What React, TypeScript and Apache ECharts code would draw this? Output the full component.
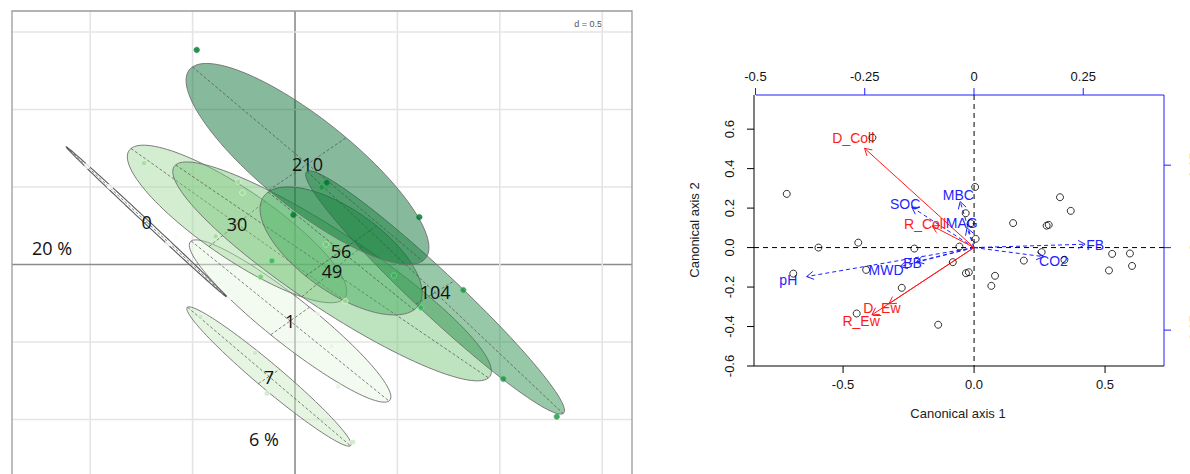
import React, { useEffect, useRef } from 'react';
import * as echarts from 'echarts';

// ---------- Left panel (class ellipses) ----------
const classNames = ['0', '1', '7', '30', '49', '56', '104', '210'];
const classColors = ['#f7fcf5', '#e5f5e0', '#c7e9c0', '#a1d99b', '#74c476', '#41ab5d', '#238b45', '#006d2c'];
const classCentres = [
  [-0.725, 0.274], [-0.024, -0.365], [-0.127, -0.723], [-0.283, 0.261],
  [0.181, -0.045], [0.225, 0.087], [0.684, -0.181], [0.061, 0.648],
];
const classMajorAxes = [
  [0.392, -0.484], [0.483, -0.516], [0.398, -0.447], [0.518, -0.487],
  [0.764, -0.687], [0.356, -0.38], [0.625, -0.781], [0.562, -0.626],
];
const classMinorLengths = [0.012, 0.13, 0.07, 0.2, 0.22, 0.237, 0.12, 0.254];

const points0 = [[-1.014, 0.635], [-0.903, 0.502], [-0.581, 0.177], [-0.62, 0.134], [-0.321, -0.216]];
const points1 = [[0.112, -0.319], [0.179, -0.529], [0.211, -0.787]];
const points7 = [[-0.461, -0.339], [-0.196, -0.572], [-0.137, -0.832], [0.283, -1.146]];
const points30 = [[-0.737, 0.653], [-0.277, 0.534], [-0.257, 0.463], [-0.388, 0.182], [0.245, -0.237]];
const points49 = [[-0.168, -0.081], [0.151, 0.129]];
const points56 = [[-0.113, 0.023], [0.483, -0.072], [0.615, -0.279]];
const points104 = [[0.13, 0.497], [0.822, -0.165], [1.017, -0.739], [1.278, -0.982]];
const points210 = [[-0.48, 1.384], [0.155, 0.528], [-0.008, 0.319], [0.607, 0.305]];
const classPoints = [points0, points1, points7, points30, points49, points56, points104, points210];

const leftGridTicks = [-1, -0.5, 0, 0.5, 1, 1.5];

// ---------- Right panel (CCA biplot) ----------
const siteScores = [
  [-0.715, 0.272], [-0.388, 0.557], [0.004, 0.307], [-0.032, 0.174], [-0.013, 0.123], [0.006, 0.044],
  [-0.056, 0.005], [-0.442, 0.025], [-0.594, 0.0], [-0.228, -0.005], [-0.69, -0.132], [-0.412, -0.113],
  [-0.081, -0.074], [-0.276, -0.204], [-0.031, -0.13], [-0.02, -0.125], [-0.448, -0.334], [-0.137, -0.391],
  [0.066, -0.194], [0.08, -0.143], [0.149, 0.124], [0.328, 0.255], [0.369, 0.186], [0.277, 0.111],
  [0.285, 0.115], [0.19, -0.066], [0.258, -0.023], [0.345, -0.062], [0.527, -0.032], [0.595, -0.03],
  [0.515, -0.116], [0.603, -0.093],
];

const redNames = ['D_Coll', 'R_Coll', 'D_Ew', 'R_Ew'];
const redTips = [[-0.418, 0.503], [-0.16, 0.11], [-0.325, -0.285], [-0.39, -0.341]];
const redLabelPos = [[-0.461, 0.554], [-0.187, 0.12], [-0.352, -0.307], [-0.431, -0.371]];

const blueNames = ['SOC', 'MBC', 'MAG', 'BB', 'MWD', 'pH', 'FB', 'CO2'];
const blueTips = [
  [-0.238, 0.205], [-0.053, 0.233], [-0.027, 0.1], [-0.219, -0.071],
  [-0.282, -0.096], [-0.639, -0.147], [0.424, 0.017], [0.265, -0.046],
];
const blueLabelPos = [
  [-0.263, 0.22], [-0.06, 0.267], [-0.047, 0.124], [-0.235, -0.079],
  [-0.336, -0.113], [-0.709, -0.164], [0.462, 0.014], [0.303, -0.066],
];

const bottomTicks = [-0.5, 0, 0.5];
const leftTicks = [-0.6, -0.4, -0.2, 0, 0.2, 0.4, 0.6];
const topTicks = [-0.5, -0.25, 0, 0.25];
const rightTicks = [-0.25, 0, 0.25];

const RFONT = 'Liberation Sans, Arial, sans-serif';
const LFONT = 'Open Sans, Liberation Sans, sans-serif';
const BLUE = '#1f1fff';
const RED = '#ff1a1a';

function arrowRenderer(color: string, dashed: boolean) {
  return (params: any, api: any) => {
    const o = api.coord([0, 0]);
    const t = api.coord([api.value(0), api.value(1)]);
    const ang = Math.atan2(t[1] - o[1], t[0] - o[0]);
    const L = 8;
    const h1 = [t[0] - L * Math.cos(ang - Math.PI / 6), t[1] - L * Math.sin(ang - Math.PI / 6)];
    const h2 = [t[0] - L * Math.cos(ang + Math.PI / 6), t[1] - L * Math.sin(ang + Math.PI / 6)];
    const st: any = { stroke: color, lineWidth: 1 };
    if (dashed) st.lineDash = [4, 3];
    return {
      type: 'group',
      children: [
        { type: 'line', shape: { x1: o[0], y1: o[1], x2: t[0], y2: t[1] }, style: st },
        { type: 'polyline', shape: { points: [h1, t, h2] }, style: { stroke: color, lineWidth: 1, fill: 'none' } },
      ],
    };
  };
}

function textRenderer(names: string[], color: string, size: number, font: string) {
  return (params: any, api: any) => {
    const p = api.coord([api.value(0), api.value(1)]);
    return {
      type: 'text',
      x: p[0],
      y: p[1],
      style: { text: names[params.dataIndex], fill: color, fontSize: size, fontFamily: font, align: 'center', verticalAlign: 'middle' },
    };
  };
}

export default function App() {
  const ref = useRef<HTMLDivElement>(null);
  useEffect(() => {
    if (!ref.current) return;
    const chart = echarts.init(ref.current, undefined, { renderer: 'svg' });

    const ellipseData = classNames.map((_, i) => [
      classCentres[i][0], classCentres[i][1], classMajorAxes[i][0], classMajorAxes[i][1], classMinorLengths[i], i,
    ]);

    const pointData: any[] = [];
    classPoints.forEach((arr, i) => {
      arr.forEach((p) => {
        pointData.push({
          value: p,
          itemStyle: { color: classColors[i], borderColor: echarts.color.lift(classColors[i], -0.45), borderWidth: 0.8 },
        });
      });
    });

    const hiddenLine = { show: false, onZero: false };

    const option: any = {
      animation: false,
      grid: [
        { left: 12, top: 11, width: 620, height: 463, show: false, containLabel: false, outerBoundsMode: 'none' },
        { left: 754, top: 95, width: 410, height: 271, show: false, containLabel: false, outerBoundsMode: 'none' },
      ],
      xAxis: [
        { gridIndex: 0, type: 'value', min: -1.382, max: 1.6455, show: false },
        {
          gridIndex: 1, type: 'value', min: -0.84, max: 0.725, position: 'bottom',
          axisLine: hiddenLine, axisTick: { show: false },
          axisLabel: { customValues: bottomTicks, formatter: (v: number) => v.toFixed(1), color: '#111', fontSize: 13, fontFamily: RFONT, margin: 12 },
          splitLine: { show: false },
        },
        {
          gridIndex: 1, type: 'value', min: -0.5034, max: 0.4348, position: 'top',
          axisLine: hiddenLine, axisTick: { show: false },
          axisLabel: { customValues: topTicks, formatter: (v: number) => String(v), color: '#111', fontSize: 13, fontFamily: RFONT, margin: 12 },
          splitLine: { show: false },
        },
      ],
      yAxis: [
        { gridIndex: 0, type: 'value', min: -1.352, max: 1.635, show: false },
        {
          gridIndex: 1, type: 'value', min: -0.6, max: 0.773, position: 'left',
          axisLine: hiddenLine, axisTick: { show: false },
          axisLabel: { customValues: leftTicks, formatter: (v: number) => v.toFixed(1), rotate: 90, color: '#111', fontSize: 13, fontFamily: RFONT, margin: 18 },
          splitLine: { show: false },
        },
        {
          gridIndex: 1, type: 'value', min: -0.3588, max: 0.4627, position: 'right',
          axisLine: hiddenLine, axisTick: { show: false },
          axisLabel: { customValues: rightTicks, formatter: (v: number) => String(v), rotate: 90, color: '#111', fontSize: 13, fontFamily: RFONT, margin: 24 },
          splitLine: { show: false },
        },
      ],
      graphic: [
        { type: 'text', x: 602, y: 24, style: { text: 'd = 0.5', fill: '#555', fontSize: 9, fontFamily: RFONT, align: 'right', verticalAlign: 'middle' } },
        { type: 'text', x: 52, y: 248, style: { text: '20 %', fill: '#111', fontSize: 18, fontFamily: LFONT, align: 'center', verticalAlign: 'middle' } },
        { type: 'text', x: 264, y: 439, style: { text: '6 %', fill: '#111', fontSize: 18, fontFamily: LFONT, align: 'center', verticalAlign: 'middle' } },
        { type: 'text', x: 958, y: 413, style: { text: 'Canonical axis 1', fill: '#222', fontSize: 13, fontFamily: RFONT, align: 'center', verticalAlign: 'middle' } },
        { type: 'text', x: 694, y: 230, rotation: Math.PI / 2, style: { text: 'Canonical axis 2', fill: '#222', fontSize: 13, fontFamily: RFONT, align: 'center', verticalAlign: 'middle' } },
      ],
      series: [
        // left panel grid lines
        {
          type: 'custom', xAxisIndex: 0, yAxisIndex: 0, silent: true,
          data: leftGridTicks.map((v) => [v, v]),
          renderItem: (params: any, api: any) => {
            const cs = params.coordSys;
            const v = api.value(0);
            const px = api.coord([v, 0])[0];
            const py = api.coord([0, v])[1];
            const isZero = v === 0;
            const st = { stroke: isZero ? '#8c8c8c' : '#e4e4e4', lineWidth: 1.6 };
            return {
              type: 'group',
              children: [
                { type: 'line', shape: { x1: px, y1: cs.y, x2: px, y2: cs.y + cs.height + 10 }, style: st },
                { type: 'line', shape: { x1: cs.x, y1: py, x2: cs.x + cs.width, y2: py }, style: st },
              ],
            };
          },
        },
        // left panel frame (bottom edge lies below the picture)
        {
          type: 'custom', xAxisIndex: 0, yAxisIndex: 0, silent: true,
          data: [[0, 0]],
          renderItem: (params: any) => {
            const cs = params.coordSys;
            return {
              type: 'polyline',
              shape: { points: [[cs.x, cs.y + cs.height + 10], [cs.x, cs.y], [cs.x + cs.width, cs.y], [cs.x + cs.width, cs.y + cs.height + 10]] },
              style: { stroke: '#9a9a9a', lineWidth: 1.3, fill: 'none' },
            };
          },
        },
        // ellipses
        {
          type: 'custom', xAxisIndex: 0, yAxisIndex: 0, silent: true,
          data: ellipseData,
          renderItem: (params: any, api: any) => {
            const cx = api.value(0), cy = api.value(1), ux = api.value(2), uy = api.value(3), b = api.value(4);
            const idx = api.value(5);
            const len = Math.hypot(ux, uy);
            const vx = (-uy / len) * b, vy = (ux / len) * b;
            const pts: number[][] = [];
            const N = 120;
            for (let k = 0; k < N; k++) {
              const t = (k / N) * Math.PI * 2;
              pts.push(api.coord([cx + ux * Math.cos(t) + vx * Math.sin(t), cy + uy * Math.cos(t) + vy * Math.sin(t)]));
            }
            const a1 = api.coord([cx - ux, cy - uy]), a2 = api.coord([cx + ux, cy + uy]);
            const b1 = api.coord([cx - vx, cy - vy]), b2 = api.coord([cx + vx, cy + vy]);
            const dash = { stroke: '#4d4d4d', lineWidth: 0.7, lineDash: [3, 2] };
            const isLine = idx === 0;
            return {
              type: 'group',
              children: [
                { type: 'polygon', shape: { points: pts }, style: { fill: echarts.color.modifyAlpha(classColors[idx], 0.47), stroke: isLine ? '#5a5a5a' : '#6f6f6f', lineWidth: isLine ? 1.1 : 0.9 } },
                { type: 'line', shape: { x1: a1[0], y1: a1[1], x2: a2[0], y2: a2[1] }, style: dash },
                { type: 'line', shape: { x1: b1[0], y1: b1[1], x2: b2[0], y2: b2[1] }, style: dash },
              ],
            };
          },
        },
        // class sample points
        {
          type: 'scatter', xAxisIndex: 0, yAxisIndex: 0, silent: true,
          symbol: 'circle', symbolSize: 5.5,
          data: pointData,
        },
        // class labels
        {
          type: 'custom', xAxisIndex: 0, yAxisIndex: 0, silent: true,
          data: classCentres,
          renderItem: textRenderer(classNames, '#111', 18, LFONT),
        },
        // right panel: left/bottom frame and ticks
        {
          type: 'custom', xAxisIndex: 1, yAxisIndex: 1, silent: true,
          data: [[0, 0]],
          renderItem: (params: any, api: any) => {
            const cs = params.coordSys;
            const st = { stroke: '#000', lineWidth: 1 };
            const bottom = cs.y + cs.height;
            const children: any[] = [
              { type: 'line', shape: { x1: cs.x, y1: cs.y, x2: cs.x, y2: bottom }, style: st },
              { type: 'line', shape: { x1: cs.x, y1: bottom, x2: cs.x + cs.width, y2: bottom }, style: st },
            ];
            bottomTicks.forEach((v) => {
              const x = api.coord([v, 0])[0];
              children.push({ type: 'line', shape: { x1: x, y1: bottom, x2: x, y2: bottom + 7 }, style: st });
            });
            leftTicks.forEach((v) => {
              const y = api.coord([0, v])[1];
              children.push({ type: 'line', shape: { x1: cs.x - 7, y1: y, x2: cs.x, y2: y }, style: st });
            });
            return { type: 'group', children };
          },
        },
        // right panel: top/right (blue) frame and ticks
        {
          type: 'custom', xAxisIndex: 2, yAxisIndex: 2, silent: true,
          data: [[0, 0]],
          renderItem: (params: any, api: any) => {
            const cs = params.coordSys;
            const st = { stroke: BLUE, lineWidth: 1 };
            const right = cs.x + cs.width;
            const children: any[] = [
              { type: 'line', shape: { x1: cs.x + 2, y1: cs.y, x2: right, y2: cs.y }, style: st },
              { type: 'line', shape: { x1: right, y1: cs.y, x2: right, y2: cs.y + cs.height }, style: st },
            ];
            topTicks.forEach((v) => {
              const x = api.coord([v, 0])[0];
              children.push({ type: 'line', shape: { x1: x, y1: cs.y - 7, x2: x, y2: cs.y }, style: st });
            });
            rightTicks.forEach((v) => {
              const y = api.coord([0, v])[1];
              children.push({ type: 'line', shape: { x1: right, y1: y, x2: right + 7, y2: y }, style: st });
            });
            return { type: 'group', children };
          },
        },
        // right panel: zero reference lines
        {
          type: 'custom', xAxisIndex: 1, yAxisIndex: 1, silent: true,
          data: [[0, 0]],
          renderItem: (params: any, api: any) => {
            const cs = params.coordSys;
            const o = api.coord([0, 0]);
            const st = { stroke: '#000', lineWidth: 1, lineDash: [5, 4] };
            return {
              type: 'group',
              children: [
                { type: 'line', shape: { x1: o[0], y1: cs.y, x2: o[0], y2: cs.y + cs.height }, style: st },
                { type: 'line', shape: { x1: cs.x, y1: o[1], x2: cs.x + cs.width, y2: o[1] }, style: st },
              ],
            };
          },
        },
        // site scores
        {
          type: 'scatter', xAxisIndex: 1, yAxisIndex: 1, silent: true,
          symbol: 'circle', symbolSize: 7,
          itemStyle: { color: 'rgba(255,255,255,0)', borderColor: '#000', borderWidth: 1 },
          data: siteScores,
        },
        // blue dashed arrows
        {
          type: 'custom', xAxisIndex: 1, yAxisIndex: 1, silent: true,
          data: blueTips,
          renderItem: arrowRenderer(BLUE, true),
        },
        // red arrows
        {
          type: 'custom', xAxisIndex: 1, yAxisIndex: 1, silent: true,
          data: redTips,
          renderItem: arrowRenderer(RED, false),
        },
        {
          type: 'custom', xAxisIndex: 1, yAxisIndex: 1, silent: true,
          data: blueLabelPos,
          renderItem: textRenderer(blueNames, BLUE, 14, RFONT),
        },
        {
          type: 'custom', xAxisIndex: 1, yAxisIndex: 1, silent: true,
          data: redLabelPos,
          renderItem: textRenderer(redNames, RED, 14, RFONT),
        },
      ],
    };
    chart.setOption(option);
    return () => chart.dispose();
  }, []);

  return (
    <div
      ref={ref}
      style={{ position: 'fixed', left: 0, top: 0, width: 1190, height: 474, background: '#fff' }}
    />
  );
}
